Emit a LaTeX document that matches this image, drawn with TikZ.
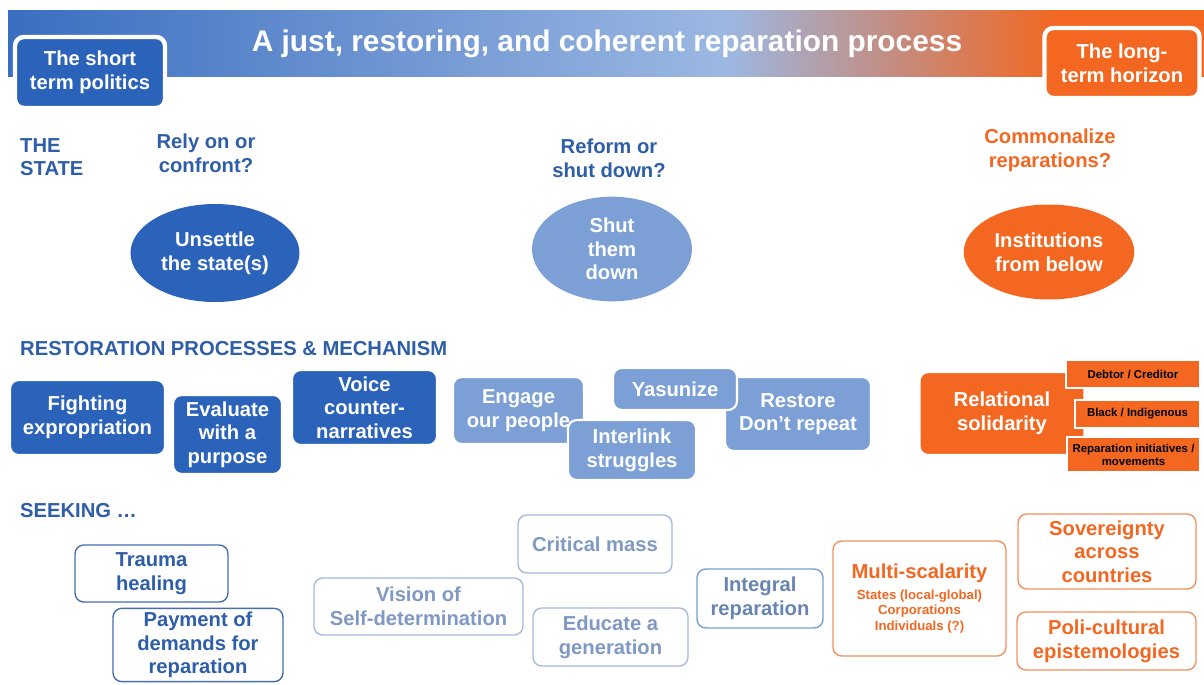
\documentclass[tikz,border=0pt]{standalone}
\usepackage{fontspec}
\setmainfont{Liberation Sans}
\usetikzlibrary{shapes.geometric}
\usetikzlibrary{positioning}

\definecolor{stateblue}{RGB}{44,99,186}
\definecolor{headblue}{RGB}{46,94,168}
\definecolor{softblue}{RGB}{124,160,214}
\definecolor{repair}{RGB}{243,103,33}
\definecolor{seekblue}{RGB}{70,108,178}
\definecolor{paleblue}{RGB}{165,186,220}
\definecolor{paletext}{RGB}{128,152,196}
\definecolor{midblue}{RGB}{122,156,210}
\definecolor{peach}{RGB}{242,145,95}
\definecolor{bannerA}{RGB}{58,110,192}
\definecolor{bannerB}{RGB}{156,184,226}
\definecolor{bannerC}{RGB}{196,140,128}

\pgfdeclarehorizontalshading{banner}{100bp}{%
  color(0bp)=(bannerA); color(25bp)=(bannerA); color(55bp)=(bannerB);
  color(62bp)=(bannerC); color(69bp)=(repair); color(100bp)=(repair)}

\tikzset{
    tile/.style={
           rectangle,
           rounded corners=5pt,
           align=center,
           inner sep=2pt,
           font=\bfseries\fontsize{11.5}{13.5}\selectfont,
           },
    solidtile/.style={tile, fill=#1, draw=white, line width=1.2pt, text=white},
    seektile/.style={tile, draw=#1, line width=0.8pt, fill=white},
    blob/.style={
           ellipse,
           fill=#1,
           text=white,
           align=center,
           font=\bfseries\fontsize{11.5}{13.5}\selectfont,
           },
    question/.style={align=center, font=\bfseries\fontsize{11.5}{13.5}\selectfont},
    tag/.style={
           rectangle,
           fill=repair,
           draw=white, line width=1pt,
           align=center,
           text=black,
           font=\bfseries\fontsize{6.5}{7.5}\selectfont,
           },
}

\begin{document}
\begin{tikzpicture}[x=0.02cm,y=-0.02cm]
 \fill[white] (0,0) rectangle (1204,684);
 \useasboundingbox (0,0) rectangle (1204,684);

 % header band
 \shade[shading=banner] (8,10) rectangle (1204,76);
 \node[font=\bfseries\fontsize{17}{20}\selectfont, text=white] (title)
  at (607,44) {A just, restoring, and coherent reparation process};
 \node[solidtile=stateblue,
 line width=2.5pt,
 minimum width=3cm,
 minimum height=1.42cm] (short) at (90,72.5)
 {The short\\term politics};
 \node[solidtile=repair,
 line width=2.5pt,
 minimum width=3.1cm,
 minimum height=1.4cm] (long) at (1122,63)
 {The long-\\term horizon};

 % the state
 \node[question, text=headblue, align=left, anchor=north west] (state)
  at (14,132) {THE\\STATE};
 \node[question, text=headblue] (rely) at (206,153) {Rely on or\\confront?};
 \node[question, text=headblue] (reform) at (609,158) {Reform or\\shut down?};
 \node[question, text=repair] (common) at (1050,150) {Commonalize\\reparations?};

 \node[blob=stateblue,
 minimum width=2.56cm,
 minimum height=1.96cm] (unsettle) at (215,253)
 {Unsettle\\the state(s)};
 \node[blob=softblue,
 minimum width=3.2cm,
 minimum height=1.96cm] (shut) at (612,249)
 {Shut\\them\\down};
 \node[blob=repair,
 minimum width=3.1cm,
 minimum height=1.9cm] (below) at (1049,252)
 {Institutions\\from below};

 % restoration processes
 \node[question, text=headblue, anchor=west] (restoration)
  at (14,349) {RESTORATION PROCESSES \& MECHANISM};

 \node[solidtile=stateblue,
 minimum width=3.1cm,
 minimum height=1.5cm] (fight) at (87.5,417.5)
 {Fighting\\expropriation};
 \node[solidtile=stateblue,
 minimum width=2.18cm,
 minimum height=1.58cm] (evaluate) at (227.5,434.5)
 {Evaluate\\with a\\purpose};
 \node[solidtile=stateblue,
 minimum width=2.9cm,
 minimum height=1.5cm] (voice) at (364.5,407.5)
 {Voice\\counter-\\narratives};

 \node[solidtile=softblue,
 minimum width=2.62cm,
 minimum height=1.34cm] (engage) at (518.5,410.5)
 {Engage\\our people};
 \node[solidtile=softblue,
 minimum width=2.92cm,
 minimum height=1.48cm] (restore) at (798,414)
 {Restore\\Don't repeat};
 \node[solidtile=softblue,
 minimum width=2.56cm,
 minimum height=1.2cm] (interlink) at (632,450)
 {Interlink\\struggles};
 \node[solidtile=softblue,
 minimum width=2.48cm,
 minimum height=0.84cm] (yasunize) at (675,389)
 {Yasunize};

 \node[solidtile=repair,
 minimum width=3.3cm,
 minimum height=1.66cm] (relational) at (1002,413.5)
 {Relational\\solidarity};
 \node[tag, minimum width=2.68cm, minimum height=0.56cm] (debtor)
  at (1133,374) {Debtor / Creditor};
 \node[tag, minimum width=2.5cm, minimum height=0.56cm] (black)
  at (1137.5,414) {Black / Indigenous};
 \node[tag, minimum width=2.66cm, minimum height=0.7cm] (movements)
  at (1133.5,454.5) {Reparation initiatives /\\movements};

 % seeking
 \node[question, text=headblue, anchor=west] (seeking) at (14,511) {SEEKING \dots};

 \node[seektile=seekblue, text=headblue,
 minimum width=3.06cm,
 minimum height=1.14cm] (trauma) at (151.5,573.5)
 {Trauma\\healing};
 \node[seektile=seekblue, text=headblue,
 minimum width=3.4cm,
 minimum height=1.4cm] (payment) at (198,645)
 {Payment of\\demands for\\reparation};
 \node[seektile=paleblue, text=paletext,
 minimum width=4.18cm,
 minimum height=1.14cm] (vision) at (418.5,606.5)
 {Vision of\\Self-determination};
 \node[seektile=paleblue, text=paletext,
 minimum width=3.08cm,
 minimum height=1.16cm] (critical) at (595,544)
 {Critical mass};
 \node[seektile=paleblue, text=paletext,
 minimum width=3.1cm,
 minimum height=1.16cm] (educate) at (610.5,637)
 {Educate a\\generation};
 \node[seektile=midblue, text=midblue!85!black,
 minimum width=2.52cm,
 minimum height=1.18cm] (integral) at (760,598.5)
 {Integral\\reparation};

 \node[seektile=peach, text=repair,
 minimum width=3.46cm,
 minimum height=2.3cm] (multi) at (919.5,598.5)
 {Multi-scalarity\\[3pt]
  \parbox{3.2cm}{\centering\fontsize{7.5}{9}\selectfont
   States (local-global)\\Corporations\\Individuals (?)}};
 \node[seektile=peach, text=repair,
 minimum width=3.56cm,
 minimum height=1.5cm] (sovereignty) at (1107,551.5)
 {Sovereignty\\across\\countries};
 \node[seektile=peach, text=repair,
 minimum width=3.58cm,
 minimum height=1.16cm] (poli) at (1106.5,641)
 {Poli-cultural\\epistemologies};
\end{tikzpicture}
\end{document}
